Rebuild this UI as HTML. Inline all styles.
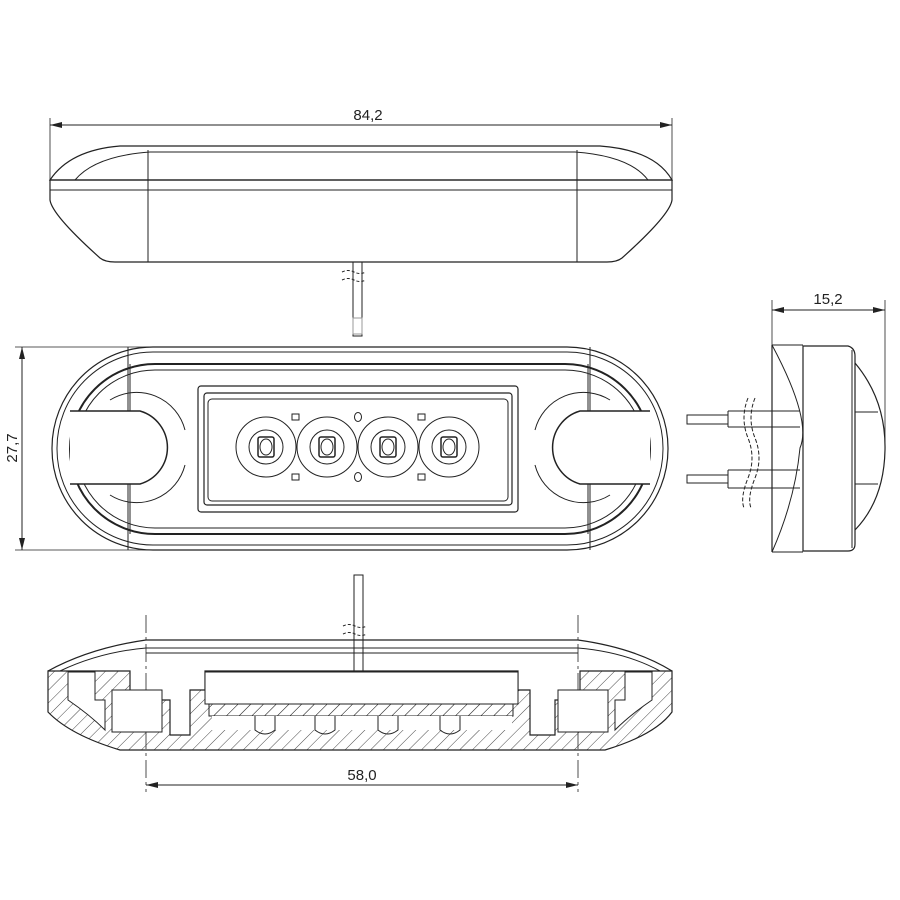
<!DOCTYPE html>
<html><head><meta charset="utf-8"><style>html,body{margin:0;padding:0;background:#fff}svg{display:block}</style></head><body>
<svg width="900" height="900" viewBox="0 0 900 900" xmlns="http://www.w3.org/2000/svg" font-family="Liberation Sans, sans-serif">
<defs>
<marker id="a" markerWidth="12" markerHeight="6" refX="12" refY="3" orient="auto-start-reverse" markerUnits="userSpaceOnUse"><path d="M0,0 L12,3 L0,6z" fill="#222"/></marker>
<pattern id="h" width="9" height="9" patternUnits="userSpaceOnUse" patternTransform="rotate(45)"><line x1="0" y1="0" x2="0" y2="9" stroke="#333" stroke-width="0.9"/></pattern>
</defs>
<g fill="none" stroke="#222" stroke-width="1">
<!-- TOP VIEW -->
<line x1="50" y1="118" x2="50" y2="180" stroke-width="0.8"/>
<line x1="672" y1="118" x2="672" y2="180" stroke-width="0.8"/>
<line x1="50" y1="125" x2="672" y2="125" marker-start="url(#a)" marker-end="url(#a)"/>
<path d="M50,180 Q70,150 120,146 L600,146 Q655,150 672,180 Z" stroke-width="1.2"/>
<path d="M75,180 Q95,156 150,152 L575,152 Q630,156 648,180"/>
<path d="M50,180 L50,200 Q52,215 100,258 Q105,262 115,262 L607,262 Q617,262 622,258 Q670,215 672,200 L672,180 Z" stroke-width="1.2"/>
<line x1="50" y1="190" x2="672" y2="190"/>
<line x1="148" y1="150" x2="148" y2="262"/>
<line x1="577" y1="150" x2="577" y2="262"/>
<rect x="353" y="262" width="9" height="74"/>
<path d="M342,272 q6,-3 12,0 t12,0 M342,280 q6,-3 12,0 t12,0" stroke-dasharray="3 2"/>
<!-- FRONT VIEW -->
<line x1="15" y1="347" x2="150" y2="347" stroke-width="0.8"/>
<line x1="15" y1="550" x2="150" y2="550" stroke-width="0.8"/>
<line x1="22" y1="347" x2="22" y2="550" marker-start="url(#a)" marker-end="url(#a)"/>
<rect x="52" y="347" width="616" height="203" rx="101" stroke-width="1.2"/>
<rect x="57" y="352" width="606" height="193" rx="96"/>
<rect x="70" y="364" width="580" height="170" rx="85" stroke-width="2"/>
<rect x="76" y="370" width="568" height="158" rx="79"/>
<line x1="128" y1="347" x2="128" y2="550"/>
<line x1="590" y1="347" x2="590" y2="550"/>
<line x1="130" y1="364" x2="130" y2="534"/>
<line x1="588" y1="364" x2="588" y2="534"/>
<path d="M70,411 L140,411 A38,38 0 0 1 140,484 L70,484" fill="#fff" stroke-width="1.5"/>
<path d="M650,411 L580,411 A38,38 0 0 0 580,484 L650,484" fill="#fff" stroke-width="1.5"/>
<path d="M110,400 A50,50 0 0 1 185,430 M110,495 A50,50 0 0 0 185,465"/>
<path d="M610,400 A50,50 0 0 0 535,430 M610,495 A50,50 0 0 1 535,465"/>
<rect x="198" y="386" width="320" height="126" rx="3" stroke-width="1.2"/>
<rect x="204" y="393" width="308" height="112" rx="3" stroke-width="1.2"/>
<rect x="208" y="399" width="300" height="102" rx="4"/>
<g>
<circle cx="266" cy="447" r="30"/><circle cx="266" cy="447" r="17"/><rect x="258" y="437" width="16" height="20" rx="2" stroke-width="1.5"/><ellipse cx="266" cy="447" rx="6" ry="8"/>
<circle cx="327" cy="447" r="30"/><circle cx="327" cy="447" r="17"/><rect x="319" y="437" width="16" height="20" rx="2" stroke-width="1.5"/><ellipse cx="327" cy="447" rx="6" ry="8"/>
<circle cx="388" cy="447" r="30"/><circle cx="388" cy="447" r="17"/><rect x="380" y="437" width="16" height="20" rx="2" stroke-width="1.5"/><ellipse cx="388" cy="447" rx="6" ry="8"/>
<circle cx="449" cy="447" r="30"/><circle cx="449" cy="447" r="17"/><rect x="441" y="437" width="16" height="20" rx="2" stroke-width="1.5"/><ellipse cx="449" cy="447" rx="6" ry="8"/>
<rect x="292" y="414" width="7" height="6"/><rect x="292" y="474" width="7" height="6"/>
<rect x="418" y="414" width="7" height="6"/><rect x="418" y="474" width="7" height="6"/>
<ellipse cx="358" cy="417" rx="3.5" ry="4.5"/><ellipse cx="358" cy="477" rx="3.5" ry="4.5"/>
</g>
<rect x="353" y="318" width="9" height="16" stroke="#999"/>
<!-- SIDE VIEW -->
<line x1="772" y1="300" x2="772" y2="345" stroke-width="0.8"/>
<line x1="885" y1="300" x2="885" y2="450" stroke-width="0.8"/>
<line x1="772" y1="310" x2="885" y2="310" marker-start="url(#a)" marker-end="url(#a)"/>
<line x1="772" y1="345" x2="772" y2="552" stroke-width="1.2"/>
<path d="M772,345 Q812,420 800,448 Q795,500 772,552"/>
<path d="M772,345 L803,345 M772,552 L803,552"/>
<path d="M803,346 L848,346 Q855,348 855,356 L855,544 Q855,551 848,551 L803,551 Z" stroke-width="1.2"/>
<line x1="852" y1="350" x2="852" y2="548"/>
<path d="M855,363 Q886,400 885,450 Q884,500 855,530" stroke-width="1.2"/>
<line x1="855" y1="412" x2="878" y2="412"/><line x1="855" y1="484" x2="878" y2="484"/>
<path d="M687,415 L728,415 L728,424 L687,424 Z M728,411 L800,411 M728,427 L800,427 M728,411 L728,427"/>
<path d="M687,475 L728,475 L728,483 L687,483 Z M728,470 L800,470 M728,488 L800,488 M728,470 L728,488"/>
<path d="M748,398 q-8,20 0,40 t0,40 t-4,30 M755,398 q-8,20 0,40 t0,40 t-4,30" stroke-dasharray="4 2"/>
<!-- SECTION VIEW -->
<line x1="146" y1="615" x2="146" y2="792" stroke-dasharray="18 4 3 4" stroke-width="0.8"/>
<line x1="578" y1="615" x2="578" y2="792" stroke-dasharray="18 4 3 4" stroke-width="0.8"/>
<line x1="146" y1="785" x2="578" y2="785" marker-start="url(#a)" marker-end="url(#a)"/>
<rect x="354" y="575" width="9" height="96"/>
<path d="M343,626 q6,-3 12,0 t12,0 M343,634 q6,-3 12,0 t12,0" stroke-dasharray="3 2"/>
<path d="M48,671 Q90,648 146,640 L578,640 Q635,648 672,671" stroke-width="1.2"/>
<path d="M60,671 Q100,652 146,648 L578,648 Q625,652 660,671"/>
<line x1="146" y1="653" x2="578" y2="653"/>
<path d="M48,671 L48,712 Q70,735 120,750 L605,750 Q655,735 672,712 L672,671 L580,671 L580,700 L555,700 L555,735 L530,735 L530,690 L518,690 L518,671 L205,671 L205,690 L190,690 L190,735 L170,735 L170,700 L130,700 L130,671 Z" fill="url(#h)" stroke-width="1.2"/>
<path d="M68,672 L68,700 Q90,715 105,730 L105,700 L95,700 L95,672 Z" fill="#fff"/>
<path d="M652,672 L652,700 Q630,715 615,730 L615,700 L625,700 L625,672 Z" fill="#fff"/>
<rect x="112" y="690" width="50" height="42" fill="#fff"/>
<rect x="558" y="690" width="50" height="42" fill="#fff"/>
<rect x="205" y="672" width="313" height="32" fill="#fff"/>
<rect x="209" y="704" width="304" height="12" fill="url(#h)"/>
<rect x="212" y="716" width="300" height="14" fill="#fff" stroke="none"/>
<path d="M255,716 L255,730 Q265,738 275,730 L275,716 M315,716 L315,730 Q325,738 335,730 L335,716 M378,716 L378,730 Q388,738 398,730 L398,716 M440,716 L440,730 Q450,738 460,730 L460,716"/>
</g>
<g fill="#222" font-size="15" text-anchor="middle">
<text x="368" y="120">84,2</text>
<text x="828" y="304">15,2</text>
<text x="362" y="780">58,0</text>
<text transform="translate(17,448) rotate(-90)">27,7</text>
</g>
</svg>
</body></html>
